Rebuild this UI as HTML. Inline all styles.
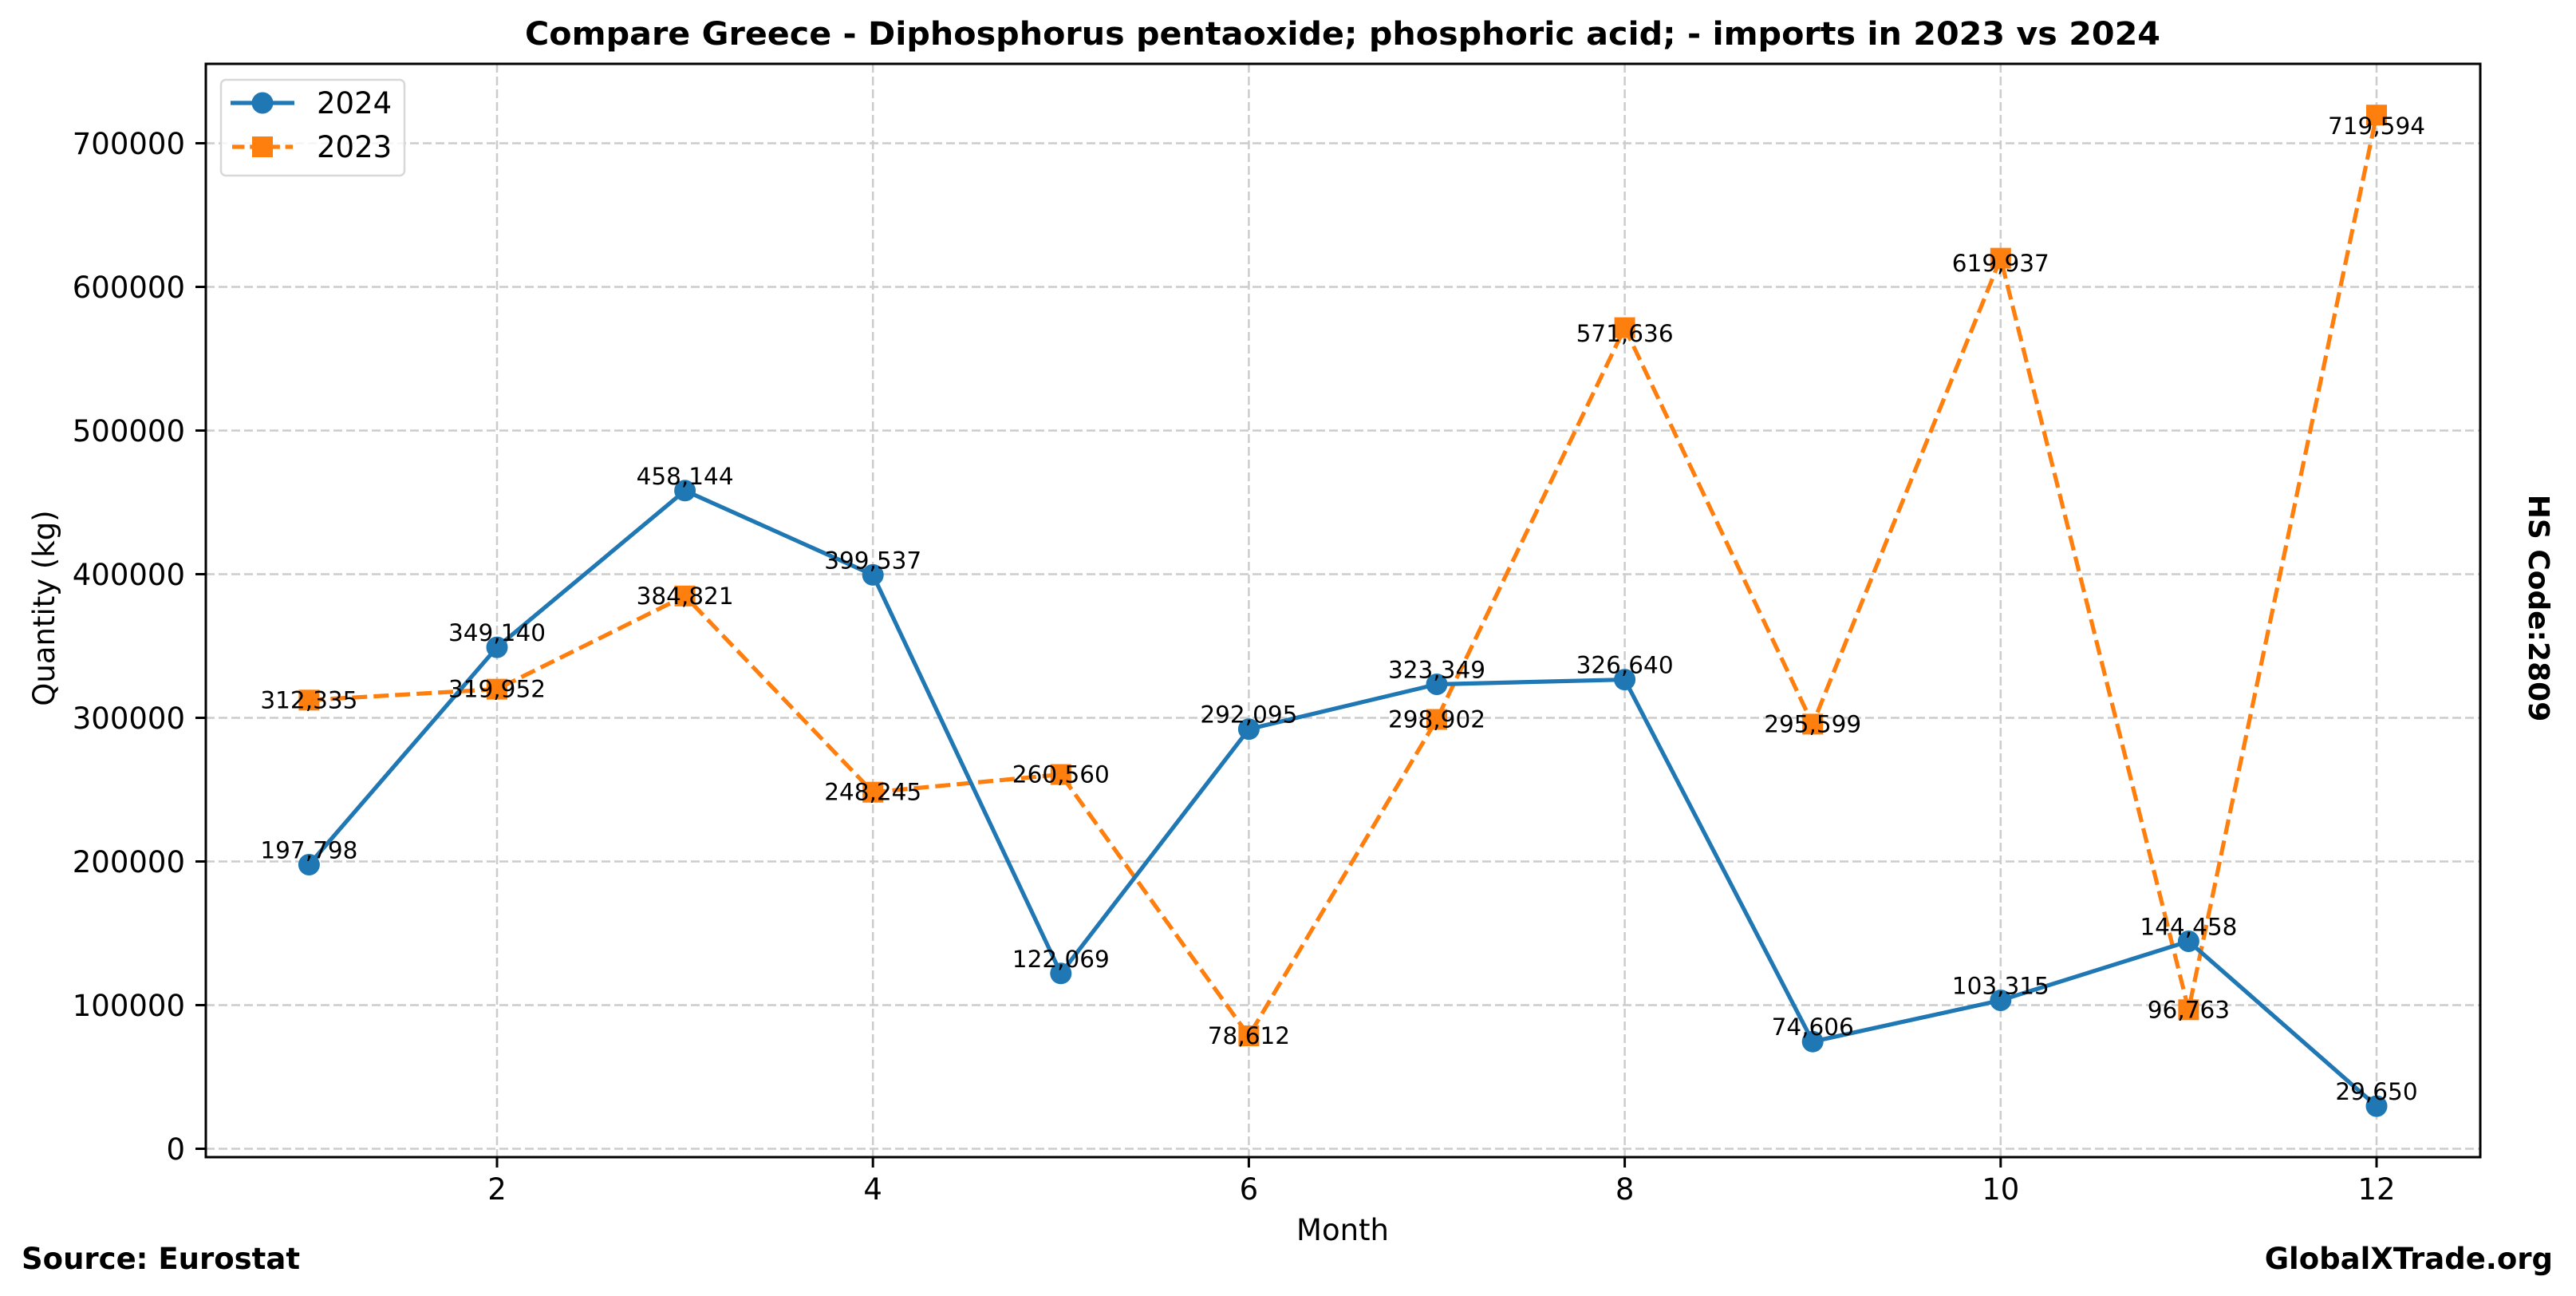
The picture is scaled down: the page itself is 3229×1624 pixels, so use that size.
<!DOCTYPE html>
<html><head><meta charset="utf-8"><style>
html,body{margin:0;padding:0;background:#fff;}
svg{display:block;font-family:"DejaVu Sans","Liberation Sans",sans-serif;}
</style></head><body>
<svg width="3229" height="1624" viewBox="0 0 3229 1624" xmlns="http://www.w3.org/2000/svg">
<rect width="3229" height="1624" fill="#fff"/>
<g stroke="#cccccc" stroke-width="2.5" stroke-dasharray="11,5" fill="none">
<line x1="258" x2="3109" y1="1439.5" y2="1439.5"/>
<line x1="258" x2="3109" y1="1259.5" y2="1259.5"/>
<line x1="258" x2="3109" y1="1079.5" y2="1079.5"/>
<line x1="258" x2="3109" y1="899.5" y2="899.5"/>
<line x1="258" x2="3109" y1="719.5" y2="719.5"/>
<line x1="258" x2="3109" y1="539.5" y2="539.5"/>
<line x1="258" x2="3109" y1="359.5" y2="359.5"/>
<line x1="258" x2="3109" y1="179.5" y2="179.5"/>
<line y1="80" y2="1450" x1="623" x2="623"/>
<line y1="80" y2="1450" x1="1094.2" x2="1094.2"/>
<line y1="80" y2="1450" x1="1565.4" x2="1565.4"/>
<line y1="80" y2="1450" x1="2036.6" x2="2036.6"/>
<line y1="80" y2="1450" x1="2507.8" x2="2507.8"/>
<line y1="80" y2="1450" x1="2979" x2="2979"/>
</g>
<g stroke="#000" stroke-width="3">
<line x1="245" x2="258" y1="1439.5" y2="1439.5"/><line x1="245" x2="258" y1="1259.5" y2="1259.5"/>
<line x1="245" x2="258" y1="1079.5" y2="1079.5"/><line x1="245" x2="258" y1="899.5" y2="899.5"/>
<line x1="245" x2="258" y1="719.5" y2="719.5"/><line x1="245" x2="258" y1="539.5" y2="539.5"/>
<line x1="245" x2="258" y1="359.5" y2="359.5"/><line x1="245" x2="258" y1="179.5" y2="179.5"/>
<line y1="1450" y2="1463" x1="623" x2="623"/><line y1="1450" y2="1463" x1="1094.2" x2="1094.2"/>
<line y1="1450" y2="1463" x1="1565.4" x2="1565.4"/><line y1="1450" y2="1463" x1="2036.6" x2="2036.6"/>
<line y1="1450" y2="1463" x1="2507.8" x2="2507.8"/><line y1="1450" y2="1463" x1="2979" x2="2979"/>
</g>
<g font-size="37" text-anchor="end" fill="#000">
<text x="232" y="1453">0</text><text x="232" y="1273">100000</text><text x="232" y="1093">200000</text>
<text x="232" y="913">300000</text><text x="232" y="733">400000</text><text x="232" y="553">500000</text>
<text x="232" y="373">600000</text><text x="232" y="193">700000</text>
</g>
<g font-size="37" text-anchor="middle" fill="#000">
<text x="623" y="1503">2</text><text x="1094.2" y="1503">4</text><text x="1565.4" y="1503">6</text>
<text x="2036.6" y="1503">8</text><text x="2507.8" y="1503">10</text><text x="2979" y="1503">12</text>
<text x="1683" y="1554">Month</text>
</g>
<text x="0" y="0" font-size="37" text-anchor="middle" transform="translate(68,762) rotate(-90)">Quantity (kg)</text>
<text x="1683" y="56" font-size="40" font-weight="bold" text-anchor="middle" textLength="2050" lengthAdjust="spacingAndGlyphs">Compare Greece - Diphosphorus pentaoxide; phosphoric acid; - imports in 2023 vs 2024</text>
<text x="27" y="1590" font-size="37" font-weight="bold">Source: Eurostat</text>
<text x="3200" y="1590" font-size="37" font-weight="bold" text-anchor="end">GlobalXTrade.org</text>
<text x="0" y="0" font-size="36" font-weight="bold" text-anchor="middle" transform="translate(3170,762) rotate(90)">HS Code:2809</text>

<!-- 2023 -->
<polyline fill="none" stroke="#ff7f0e" stroke-width="5.2" stroke-dasharray="19,8" points="387.4,877.3 623,863.6 858.6,746.8 1094.2,992.7 1329.8,970.5 1565.4,1298 1801,901.5 2036.6,410.6 2272.2,907.4 2507.8,323.6 2743.4,1265.3 2979,144.2"/>
<g fill="#ff7f0e">
<rect x="374.4" y="864.3" width="26" height="26"/><rect x="610" y="850.6" width="26" height="26"/>
<rect x="845.6" y="733.8" width="26" height="26"/><rect x="1081.2" y="979.7" width="26" height="26"/>
<rect x="1316.8" y="957.5" width="26" height="26"/><rect x="1552.4" y="1285" width="26" height="26"/>
<rect x="1788" y="888.5" width="26" height="26"/><rect x="2023.6" y="397.6" width="26" height="26"/>
<rect x="2259.2" y="894.4" width="26" height="26"/><rect x="2494.8" y="310.6" width="26" height="26"/>
<rect x="2730.4" y="1252.3" width="26" height="26"/><rect x="2966" y="131.2" width="26" height="26"/>
</g>
<!-- 2024 -->
<polyline fill="none" stroke="#1f77b4" stroke-width="5.2" points="387.4,1083.5 623,811.1 858.6,614.8 1094.2,720.4 1329.8,1219.8 1565.4,913.7 1801,857.5 2036.6,851.6 2272.2,1305.2 2507.8,1253.5 2743.4,1179.5 2979,1386.1"/>
<g fill="#1f77b4">
<circle cx="387.4" cy="1083.5" r="13.5"/><circle cx="623" cy="811.1" r="13.5"/><circle cx="858.6" cy="614.8" r="13.5"/>
<circle cx="1094.2" cy="720.4" r="13.5"/><circle cx="1329.8" cy="1219.8" r="13.5"/><circle cx="1565.4" cy="913.7" r="13.5"/>
<circle cx="1801" cy="857.5" r="13.5"/><circle cx="2036.6" cy="851.6" r="13.5"/><circle cx="2272.2" cy="1305.2" r="13.5"/>
<circle cx="2507.8" cy="1253.5" r="13.5"/><circle cx="2743.4" cy="1179.5" r="13.5"/><circle cx="2979" cy="1386.1" r="13.5"/>
</g>
<g font-size="29.5" text-anchor="middle" fill="#000">
<text x="387.4" y="1075.5">197,798</text><text x="623" y="803.1">349,140</text><text x="858.6" y="606.8">458,144</text>
<text x="1094.2" y="712.4">399,537</text><text x="1329.8" y="1211.8">122,069</text><text x="1565.4" y="905.7">292,095</text>
<text x="1801" y="849.5">323,349</text><text x="2036.6" y="843.6">326,640</text><text x="2272.2" y="1297.2">74,606</text>
<text x="2507.8" y="1245.5">103,315</text><text x="2743.4" y="1171.5">144,458</text><text x="2979" y="1378.1">29,650</text>
<text x="387.4" y="887.3">312,335</text><text x="623" y="873.6">319,952</text><text x="858.6" y="756.8">384,821</text>
<text x="1094.2" y="1002.7">248,245</text><text x="1329.8" y="980.5">260,560</text><text x="1565.4" y="1308">78,612</text>
<text x="1801" y="911.5">298,902</text><text x="2036.6" y="428">571,636</text><text x="2272.2" y="917.4">295,599</text>
<text x="2507.8" y="340">619,937</text><text x="2743.4" y="1275.3">96,763</text><text x="2979" y="168">719,594</text>
</g>
<rect x="258" y="80" width="2851" height="1370" fill="none" stroke="#000" stroke-width="3"/>
<!-- legend -->
<rect x="277" y="100" width="230" height="120" rx="6" fill="#fff" fill-opacity="0.8" stroke="#d8d8d8" stroke-width="2.5"/>
<line x1="289" x2="369" y1="129" y2="129" stroke="#1f77b4" stroke-width="5.2"/>
<circle cx="329" cy="129" r="13.5" fill="#1f77b4"/>
<line x1="291" x2="367" y1="184" y2="184" stroke="#ff7f0e" stroke-width="5.2" stroke-dasharray="15.5,6.7"/>
<rect x="316" y="171" width="26" height="26" fill="#ff7f0e"/>
<text x="397" y="142" font-size="37">2024</text>
<text x="397" y="197" font-size="37">2023</text>
</svg>
</body></html>
